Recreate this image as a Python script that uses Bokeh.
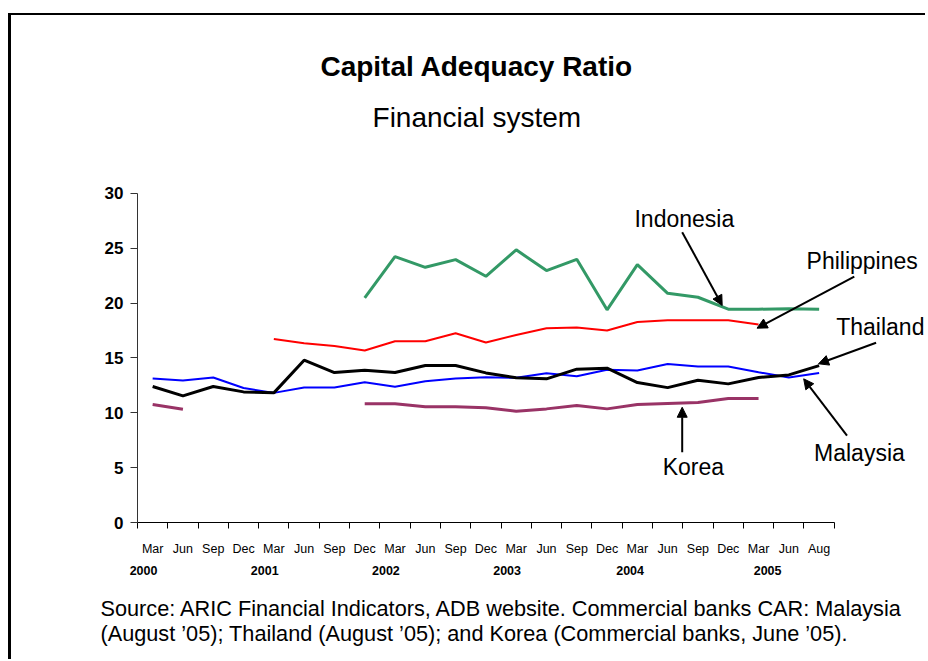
from bokeh.plotting import figure
from bokeh.models import (Range1d, FixedTicker, LinearAxis, Label, Arrow, NormalHead, Title)
from bokeh.embed import file_html
from bokeh.resources import INLINE

nan = float("nan")

months = ["Mar", "Jun", "Sep", "Dec"] * 5 + ["Mar", "Jun", "Aug"]
years = ["2000", "2001", "2002", "2003", "2004", "2005"]
year_pos = [-0.3, 3.7, 7.7, 11.7, 15.76, 20.3]

indonesia = [nan] * 7 + [20.48, 24.25, 23.27, 23.97, 22.45, 24.86, 22.97, 24.0,
                         19.39, 23.52, 20.9, 20.54, 19.45, 19.45, 19.5, 19.45]
philippines = [nan] * 4 + [16.74, 16.35, 16.1, 15.68, 16.53, 16.53, 17.26, 16.41,
                           17.1, 17.71, 17.78, 17.5, 18.29, 18.44, 18.44, 18.44,
                           18.05] + [nan] * 2
thailand = [12.4, 11.55, 12.4, 11.91, 11.82, 14.8, 13.67, 13.89, 13.67, 14.31,
            14.31, 13.64, 13.19, 13.1, 13.98, 14.07, 12.76, 12.3, 12.97, 12.64,
            13.22, 13.46, 14.31]
malaysia = [13.13, 12.94, 13.22, 12.27, 11.82, 12.3, 12.3, 12.79, 12.37, 12.88,
            13.13, 13.25, 13.19, 13.61, 13.34, 13.92, 13.86, 14.46, 14.22, 14.22,
            13.7, 13.22, 13.64]
korea = [10.76, 10.33] + [nan] * 5 + [10.82, 10.82, 10.55, 10.55, 10.46, 10.15,
                                     10.36, 10.67, 10.36, 10.76, 10.85, 10.94,
                                     11.3, 11.3] + [nan] * 2

x = list(range(len(months)))

FONT = "Liberation Sans"

p = figure(width=917, height=646, output_backend="svg", toolbar_location=None,
           x_range=Range1d(-0.5, 25.61), y_range=Range1d(0, 46.23),
           min_border_left=126, min_border_right=0, min_border_top=0,
           min_border_bottom=139, x_axis_type=None, y_axis_type=None)
p.outline_line_color = None
p.grid.visible = False
p.styles = {"border-top": "2px solid black", "border-left": "3px solid black",
            "margin-top": "13px", "margin-left": "8px"}

# y axis
yaxis = LinearAxis(ticker=FixedTicker(ticks=[0, 5, 10, 15, 20, 25, 30], minor_ticks=[]),
                   bounds=(0, 30))
yaxis.major_tick_out = 7
yaxis.major_tick_in = 0
yaxis.major_label_standoff = 7
yaxis.major_label_text_font = FONT
yaxis.major_label_text_font_style = "bold"
yaxis.major_label_text_font_size = "17px"
yaxis.major_label_text_color = "black"
yaxis.axis_line_color = "#333333"
yaxis.major_tick_line_color = "#333333"
p.add_layout(yaxis, "left")

# x axis: month labels at centers, ticks at category boundaries
xaxis = LinearAxis(ticker=FixedTicker(ticks=x, minor_ticks=[i - 0.5 for i in range(len(x) + 1)]),
                   bounds=(-0.5, 22.5))
xaxis.major_label_overrides = {i: m for i, m in zip(x, months)}
xaxis.major_tick_in = 0
xaxis.major_tick_out = 0
xaxis.minor_tick_in = 0
xaxis.minor_tick_out = 6
xaxis.minor_tick_line_color = "black"
xaxis.axis_line_color = "black"
xaxis.major_label_standoff = 13
xaxis.major_label_text_font = FONT
xaxis.major_label_text_font_size = "12.5px"
xaxis.major_label_text_color = "black"
p.add_layout(xaxis, "below")

# year axis
yr_axis = LinearAxis(ticker=FixedTicker(ticks=year_pos, minor_ticks=[]))
yr_axis.major_label_overrides = {v: t for v, t in zip(year_pos, years)}
yr_axis.axis_line_color = None
yr_axis.major_tick_line_color = None
yr_axis.major_tick_out = 0
yr_axis.major_tick_in = 0
yr_axis.major_label_standoff = 7
yr_axis.major_label_text_font = FONT
yr_axis.major_label_text_font_style = "bold"
yr_axis.major_label_text_font_size = "12.5px"
yr_axis.major_label_text_color = "black"
p.add_layout(yr_axis, "below")

# series
p.line(x, indonesia, line_color="#339966", line_width=3)
p.line(x, philippines, line_color="#FF0000", line_width=2)
p.line(x, malaysia, line_color="#0000FF", line_width=2)
p.line(x, thailand, line_color="#000000", line_width=3)
p.line(x, korea, line_color="#993366", line_width=3)

# titles
p.add_layout(Label(x=10.7, y=41.6, text="Capital Adequacy Ratio", text_align="center",
                   text_baseline="middle", text_font=FONT, text_font_style="bold",
                   text_font_size="28px", text_color="black"))
p.add_layout(Label(x=10.7, y=36.9, text="Financial system", text_align="center",
                   text_baseline="middle", text_font=FONT,
                   text_font_size="28px", text_color="black"))

# series annotations
ann = [
    ("Indonesia", 17.55, 27.63, 17.48, 26.47, 18.80, 19.79),
    ("Philippines", 23.42, 23.8, 23.16, 22.43, 19.95, 17.72),
    ("Thailand", 24.02, 17.87, 23.88, 16.39, 21.98, 14.47),
    ("Malaysia", 23.33, 6.38, 22.92, 7.93, 21.49, 13.10),
    ("Korea", 17.85, 5.02, 17.48, 6.41, 17.48, 10.51),
]
for name, lx, ly, xs, ys, xe, ye in ann:
    p.add_layout(Label(x=lx, y=ly, text=name, text_align="center", text_baseline="middle",
                       text_font=FONT, text_font_size="23px", text_color="black"))
    p.add_layout(Arrow(end=NormalHead(size=10, fill_color="black", line_color="black"),
                       x_start=xs, y_start=ys, x_end=xe, y_end=ye,
                       line_color="black", line_width=2))

# source note
src1 = "Source: ARIC Financial Indicators, ADB website. Commercial banks CAR: Malaysia"
src2 = "(August \u201905); Thailand (August \u201905); and Korea (Commercial banks, June \u201905)."
t = Title(text=src1 + "\n" + src2, align="left", offset=-37, standoff=31,
          text_font=FONT, text_font_style="normal", text_font_size="21.7px",
          text_line_height=1.02, text_color="black")
p.add_layout(t, "below")

open("out.html", "w").write(file_html(p, INLINE))
